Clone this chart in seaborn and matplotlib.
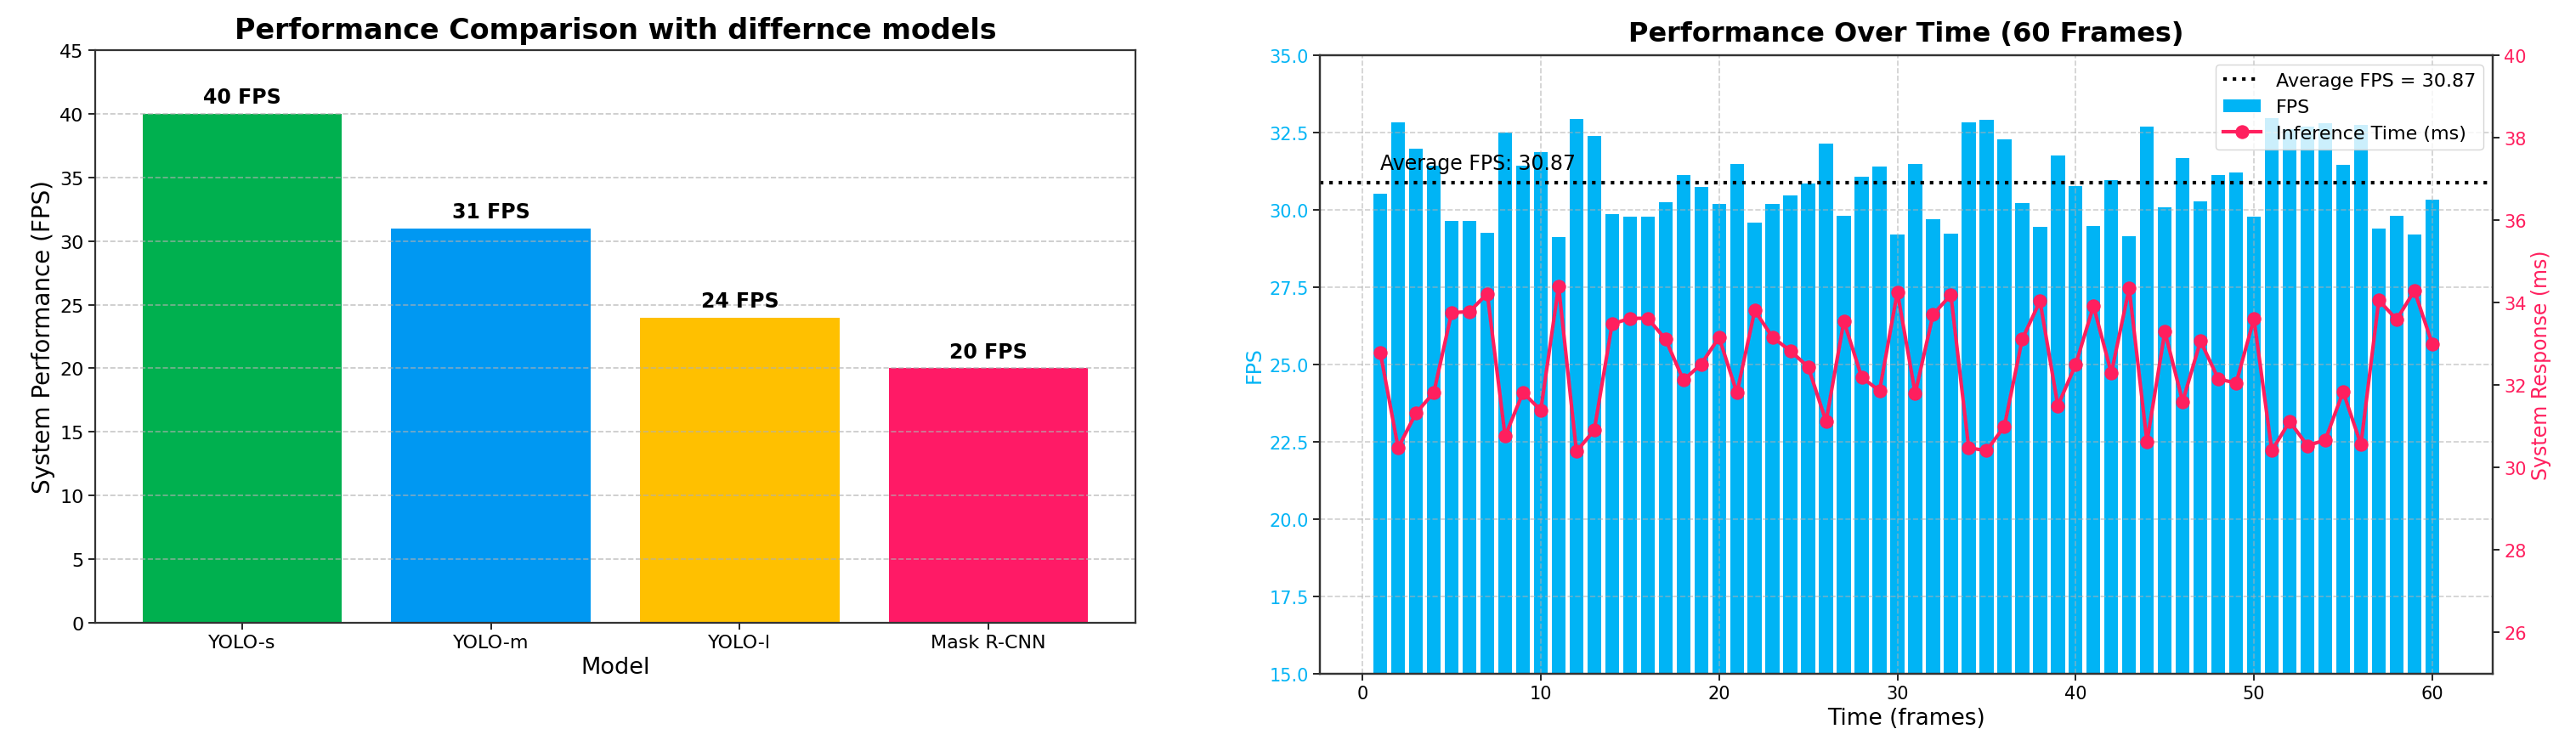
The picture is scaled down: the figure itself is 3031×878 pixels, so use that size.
import numpy as np
import pandas as pd
import matplotlib
matplotlib.use("Agg")
import matplotlib.pyplot as plt
import seaborn as sns

# ---------------- data ----------------
models = ["YOLO-s", "YOLO-m", "YOLO-l", "Mask R-CNN"]
model_fps = [40, 31, 24, 20]
model_colors = ["#00b04f", "#0098f2", "#ffc000", "#ff1a66"]

frames = list(range(1, 61))
fps_values = [
    30.51, 32.84, 31.97, 31.44, 29.63, 29.63, 29.26, 32.49, 31.44, 31.87,
    29.12, 32.95, 32.40, 29.87, 29.77, 29.77, 30.24, 31.13, 30.75, 30.19,
    31.49, 29.58, 30.18, 30.46, 30.84, 32.15, 29.82, 31.07, 31.40, 29.20,
    31.49, 29.70, 29.24, 32.84, 32.91, 32.29, 30.23, 29.45, 31.77, 30.78,
    29.47, 30.97, 29.15, 32.70, 30.09, 31.67, 30.28, 31.13, 31.22, 29.77,
    32.96, 32.60, 32.70, 32.80, 31.46, 32.75, 29.40, 29.82, 29.20, 30.32,
]
inference_ms = [
    32.79, 30.48, 31.32, 31.82, 33.76, 33.78, 34.22, 30.76, 31.82, 31.39,
    34.40, 30.39, 30.91, 33.48, 33.62, 33.62, 33.11, 32.12, 32.51, 33.16,
    31.81, 33.81, 33.16, 32.83, 32.44, 31.12, 33.55, 32.19, 31.86, 34.26,
    31.80, 33.71, 34.19, 30.48, 30.41, 31.00, 33.11, 34.04, 31.50, 32.50,
    33.92, 32.29, 34.35, 30.62, 33.30, 31.60, 33.07, 32.15, 32.05, 33.61,
    30.41, 31.12, 30.53, 30.67, 31.84, 30.56, 34.06, 33.59, 34.29, 33.00,
]
average_fps = 30.87

fps_color = "#00b4f5"
ms_color = "#ff1f5e"

# ---------------- figure ----------------
W, H = 3031, 879
fig = plt.figure(figsize=(W / 100, H / 100), dpi=100)

def rect(x0, y0, x1, y1):
    return [x0 / W, 1 - y1 / H, (x1 - x0) / W, (y1 - y0) / H]

# ---- left chart ----
ax1 = fig.add_axes(rect(112, 60, 1336, 734))
df_models = pd.DataFrame({"Model": models, "FPS": model_fps})
sns.barplot(data=df_models, x="Model", y="FPS", hue="Model", palette=model_colors,
            saturation=1, width=0.8, legend=False, ax=ax1)
ax1.set_xlim(-0.59, 3.59)
ax1.set_ylim(0, 45)
ax1.set_yticks(np.arange(0, 46, 5))
ax1.yaxis.grid(True, linestyle="--", color="#b0b0b0", alpha=0.7, linewidth=1.2)
ax1.xaxis.grid(False)
for i, v in enumerate(model_fps):
    ax1.text(i, v + 0.5, f"{v} FPS", ha="center", va="bottom",
             fontsize=17, fontweight="bold")
ax1.set_title("Performance Comparison with differnce models", fontsize=24,
              fontweight="bold", pad=10)
ax1.set_xlabel("Model", fontsize=19.5)
ax1.set_ylabel("System Performance (FPS)", fontsize=20)
ax1.tick_params(axis="both", labelsize=16, length=6, width=1.2)
for s in ax1.spines.values():
    s.set_linewidth(1.6)
    s.set_color("#333333")

# ---- right chart ----
ax2 = fig.add_axes(rect(1553, 66, 2933, 794))
df_t = pd.DataFrame({"frame": frames, "fps": fps_values, "ms": inference_ms})
sns.barplot(data=df_t, x="frame", y="fps", native_scale=True, color=fps_color,
            saturation=1, width=0.78, label="FPS", ax=ax2)
ax2.axhline(average_fps, color="black", linestyle=":", linewidth=3,
            label=f"Average FPS = {average_fps:.2f}")
ax2.text(1, average_fps + 0.3, f"Average FPS: {average_fps:.2f}", fontsize=17,
         ha="left", va="bottom")
ax2.set_ylim(15, 35)
ax2.set_xlim(-2.39, 63.39)
ax2.set_xticks(range(0, 61, 10))
ax2.set_yticks(np.arange(15, 35.1, 2.5))
ax2.yaxis.set_major_formatter(matplotlib.ticker.FormatStrFormatter("%.1f"))
ax2.grid(True, linestyle="--", color="#b0b0b0", alpha=0.6, linewidth=1.2)
ax2.set_xlabel("Time (frames)", fontsize=19)
ax2.set_ylabel("FPS", fontsize=17, color=fps_color)
ax2.tick_params(axis="y", labelcolor=fps_color, labelsize=15, length=6, width=1.2)
ax2.tick_params(axis="x", labelsize=15, length=6, width=1.2)
ax2.set_title("Performance Over Time (60 Frames)", fontsize=23, fontweight="bold", pad=12)

ax3 = ax2.twinx()
sns.lineplot(data=df_t, x="frame", y="ms", color=ms_color, marker="o",
             markersize=11, markeredgecolor=ms_color, linewidth=3,
             label="Inference Time (ms)", legend=False, ax=ax3)
ax3.set_ylim(25, 40)
ax3.set_yticks(range(26, 41, 2))
ax3.set_ylabel("System Response (ms)", fontsize=17, color=ms_color)
ax3.tick_params(axis="y", labelcolor=ms_color, labelsize=15, length=6, width=1.2)

for s in list(ax2.spines.values()) + list(ax3.spines.values()):
    s.set_linewidth(1.6)
    s.set_color("#333333")

h1, l1 = ax2.get_legend_handles_labels()
h2, l2 = ax3.get_legend_handles_labels()
order = [l1.index(f"Average FPS = {average_fps:.2f}"), l1.index("FPS")]
handles = [h1[i] for i in order] + h2
labels = [l1[i] for i in order] + l2
ax2.legend(handles, labels, loc="upper right", fontsize=16, framealpha=0.8)

fig.savefig("out.png", dpi=100)
